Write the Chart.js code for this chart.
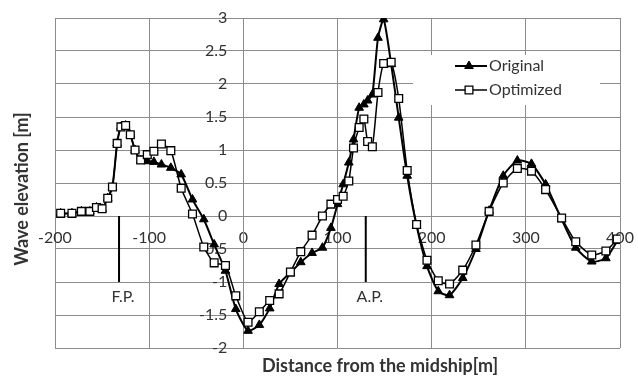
<!DOCTYPE html>
<html><head><meta charset="utf-8">
<script src="https://cdn.jsdelivr.net/npm/chart.js@4"></script>
<style>html,body{margin:0;padding:0;background:#fff;}#wrap{width:638px;height:376px;}</style>
</head><body><div id="wrap"><canvas id="c" width="638" height="376"></canvas></div>
<script>
// Station positions [m] (distance from the midship)
const distance = [-194,-182,-172,-163,-156,-150,-144,-139,-134,-130,-125,-120,-115,-109,-102,-95,-87,-77,-66,-54,-42,-31,-19,-8,5,17,28,38,50,61,73,84,93,100,106,112,117,123,128,132,137,143,149,157,165,174,184,195,207,219,233,247,261,276,291,306,321,338,353,370,385,397];
// Wave elevation [m]
const original = [0.04,0.04,0.07,0.07,0.13,0.11,0.27,0.44,1.10,1.35,1.37,1.23,1.00,0.84,0.83,0.82,0.78,0.73,0.63,0.25,-0.05,-0.43,-0.83,-1.41,-1.74,-1.65,-1.40,-1.03,-0.86,-0.70,-0.56,-0.48,-0.18,0.18,0.48,0.81,1.16,1.64,1.69,1.75,1.84,2.70,2.98,2.30,1.49,0.61,-0.15,-0.76,-1.14,-1.20,-0.94,-0.50,0.08,0.61,0.84,0.79,0.48,-0.05,-0.48,-0.69,-0.64,-0.38];
const optimized = [0.04,0.04,0.07,0.07,0.13,0.11,0.27,0.44,1.10,1.35,1.37,1.23,1.00,0.85,0.93,0.98,1.09,0.99,0.42,0.03,-0.47,-0.71,-0.75,-1.21,-1.61,-1.45,-1.28,-1.18,-0.85,-0.54,-0.29,0.00,0.18,0.25,0.30,0.53,1.03,1.34,1.47,1.13,1.05,1.87,2.31,2.33,1.78,0.69,-0.13,-0.67,-0.98,-1.03,-0.82,-0.44,0.07,0.50,0.72,0.68,0.40,-0.03,-0.39,-0.59,-0.53,-0.35];
const seriesNames = ['Original','Optimized'];
const xTicks = [-200,-100,0,100,200,300,400];
const yTicks = [-2,-1.5,-1,-0.5,0,0.5,1,1.5,2,2.5,3];
// Ship reference marks
const markNames = ['F.P.','A.P.'];
const markX = [-132,130];
const markTop = [0,0];
const markBottom = [-1,-1];
const markLabelY = -1.23;
const xTitle = 'Distance from the midship[m]';
const yTitle = 'Wave elevation [m]';

const TXT = '#333333';
const GRID = '#8c8c8c';
Chart.defaults.font.family = 'Lato, "Open Sans", sans-serif';
Chart.defaults.font.size = 16;
Chart.defaults.color = TXT;

const pts = arr => distance.map((d,i)=>({x:d,y:arr[i]}));
const markSets = markX.map((mx,i)=>({
  label:'_'+markNames[i], data:[{x:mx,y:markTop[i]},{x:mx,y:markBottom[i]}],
  borderColor:'#000', borderWidth:2, pointRadius:0, showLine:true, tension:0, order:3
}));

const overlay = {
  id:'overlay',
  beforeDatasetsDraw(chart){
    const {ctx, scales:{x,y}} = chart;
    ctx.save();
    ctx.font = '16px Lato, sans-serif';
    ctx.fillStyle = TXT; ctx.textAlign='right'; ctx.textBaseline='middle';
    const x0 = x.getPixelForValue(0) - 16;
    y.ticks.forEach(t=>ctx.fillText(String(t.value), x0, y.getPixelForValue(t.value)));
    ctx.restore();
  },
  afterDatasetsDraw(chart){
    const {ctx, scales:{x,y}} = chart;
    ctx.save();
    ctx.font = '16px Lato, sans-serif';
    ctx.fillStyle = TXT; ctx.textAlign='center'; ctx.textBaseline='middle';
    markNames.forEach((n,i)=>ctx.fillText(n, x.getPixelForValue(markX[i])+4, y.getPixelForValue(markLabelY)));
    // legend
    ctx.fillStyle='#fff'; ctx.fillRect(413,55,187,50);
    const rows=[66,90];
    [0,1].forEach(i=>{
      const ds = chart.data.datasets[i];
      ctx.strokeStyle='#000'; ctx.lineWidth=ds.borderWidth;
      ctx.beginPath(); ctx.moveTo(455,rows[i]); ctx.lineTo(487,rows[i]); ctx.stroke();
      ctx.fillStyle=ds.pointBackgroundColor; ctx.strokeStyle=ds.pointBorderColor; ctx.lineWidth=ds.pointBorderWidth;
      Chart.helpers.drawPoint(ctx,{pointStyle:ds.pointStyle,radius:ds.pointRadius,borderWidth:ds.pointBorderWidth,rotation:0},469,rows[i]);
      ctx.fillStyle=TXT; ctx.textAlign='left'; ctx.textBaseline='middle';
      ctx.fillText(ds.label,489,rows[i]);
    });
    // axis titles
    ctx.font='bold 18px Lato, sans-serif'; ctx.fillStyle=TXT; ctx.textBaseline='middle';
    ctx.textAlign='left';
    ctx.fillText(xTitle,262,366);
    ctx.textAlign='center';
    ctx.translate(22,189); ctx.rotate(-Math.PI/2); ctx.fillText(yTitle,0,0);
    ctx.restore();
  }
};

new Chart(document.getElementById('c'),{
  type:'scatter',
  data:{datasets:[
    {label:seriesNames[0], data:pts(original), showLine:true, borderColor:'#000', backgroundColor:'#000', pointBackgroundColor:'#000', pointBorderColor:'#000', borderWidth:2, pointStyle:'triangle', pointRadius:5, pointBorderWidth:1, tension:0.2, order:2},
    {label:seriesNames[1], data:pts(optimized), showLine:true, borderColor:'#000', backgroundColor:'#fff', pointBackgroundColor:'#fff', pointBorderColor:'#000', borderWidth:1.5, pointStyle:'rect', pointRadius:5.5, pointBorderWidth:1.3, tension:0.2, order:1},
    ...markSets
  ]},
  options:{
    responsive:false, animation:false, devicePixelRatio:1,
    layout:{padding:{left:55,right:18,top:18,bottom:28}},
    plugins:{legend:{display:false}, tooltip:{enabled:false}},
    scales:{
      x:{type:'linear', min:-200, max:400, position:{y:0},
        afterBuildTicks:s=>{s.ticks=xTicks.map(v=>({value:v}));},
        grid:{color:GRID, lineWidth:1, drawTicks:true, tickLength:12, tickColor:'rgba(0,0,0,0)'},
        border:{color:GRID, width:1},
        ticks:{padding:0, color:TXT, maxRotation:0, autoSkip:false}},
      y:{type:'linear', min:-2, max:3, position:{x:0},
        afterBuildTicks:s=>{s.ticks=yTicks.map(v=>({value:v}));},
        grid:{color:GRID, lineWidth:1, drawTicks:false},
        border:{color:GRID, width:1},
        ticks:{display:false}}
    }
  },
  plugins:[overlay]
});
</script></body></html>
